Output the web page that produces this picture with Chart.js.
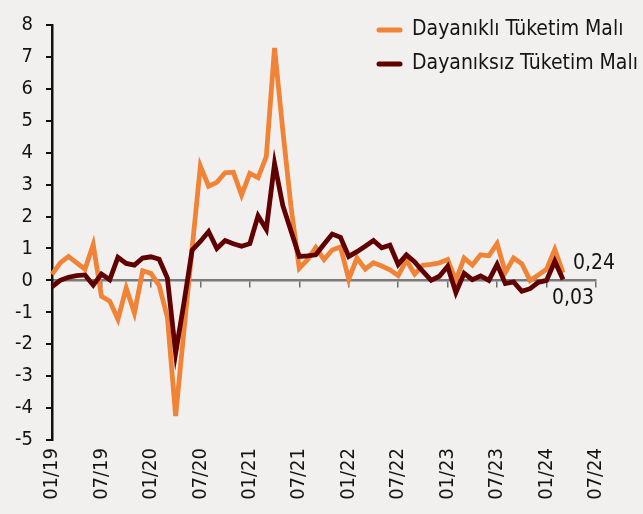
<!DOCTYPE html>
<html><head><meta charset="utf-8">
<script src="https://cdn.jsdelivr.net/npm/chart.js@4/dist/chart.umd.min.js"></script>
<style>
html,body{margin:0;padding:0;background:#F2F0EF;}
#wrap{width:643px;height:514px;position:relative;}
</style>
</head><body>
<div id="wrap"><canvas id="c" width="643" height="514"></canvas></div>
<script>
const categories = [
  "01/19","02/19","03/19","04/19","05/19","06/19","07/19","08/19","09/19","10/19","11/19","12/19",
  "01/20","02/20","03/20","04/20","05/20","06/20","07/20","08/20","09/20","10/20","11/20","12/20",
  "01/21","02/21","03/21","04/21","05/21","06/21","07/21","08/21","09/21","10/21","11/21","12/21",
  "01/22","02/22","03/22","04/22","05/22","06/22","07/22","08/22","09/22","10/22","11/22","12/22",
  "01/23","02/23","03/23","04/23","05/23","06/23","07/23","08/23","09/23","10/23","11/23","12/23",
  "01/24","02/24","03/24","04/24","05/24","06/24","07/24"
];
const durable = [
  0.19, 0.55, 0.75, 0.55, 0.35, 1.12, -0.50, -0.65, -1.22, -0.24, -1.02, 0.30,
  0.22, -0.16, -1.16, -4.25, -1.60, 1.00, 3.58, 2.95, 3.07, 3.37, 3.39, 2.67,
  3.35, 3.22, 3.88, 7.28, 4.70, 2.30, 0.38, 0.65, 1.03, 0.65, 0.95, 1.05,
  0.04, 0.70, 0.35, 0.55, 0.45, 0.33, 0.15, 0.63, 0.20, 0.47, 0.50, 0.55,
  0.65, 0.00, 0.70, 0.48, 0.80, 0.77, 1.15, 0.25, 0.70, 0.52, 0.00, 0.17,
  0.35, 0.97, 0.24
];
const nondurable = [
  -0.20, 0.00, 0.10, 0.15, 0.17, -0.15, 0.20, 0.02, 0.72, 0.53, 0.48, 0.70,
  0.74, 0.66, 0.07, -2.28, -0.72, 0.95, 1.22, 1.53, 1.00, 1.25, 1.15, 1.07,
  1.15, 2.02, 1.60, 3.66, 2.35, 1.55, 0.75, 0.77, 0.80, 1.13, 1.45, 1.35,
  0.75, 0.90, 1.07, 1.25, 1.02, 1.10, 0.50, 0.80, 0.58, 0.28, 0.00, 0.13,
  0.44, -0.38, 0.22, 0.02, 0.14, 0.00, 0.50, -0.10, -0.05, -0.34, -0.26, -0.06,
  0.00, 0.60, 0.03
];
const seriesNames = ["Dayanıklı Tüketim Malı", "Dayanıksız Tüketim Malı"];
const lastValueLabels = ["0,24", "0,03"];
const yMin = -5, yMax = 8, yStep = 1;

const FONT = "'DejaVu Sans Condensed', 'DejaVu Sans', sans-serif";
const ORANGE = "#F08336";
const BROWN = "#600000";
const TEXT = "#141414";

const legendPlugin = {
  id: 'customLegend',
  afterDraw(chart) {
    const ctx = chart.ctx;
    const items = [
      {label: chart.data.datasets[0].label, color: chart.data.datasets[0].borderColor},
      {label: chart.data.datasets[1].label, color: chart.data.datasets[1].borderColor}
    ];
    ctx.save();
    ctx.font = "21px " + FONT;
    ctx.textBaseline = 'middle';
    ctx.textAlign = 'left';
    items.forEach((it, k) => {
      const y = 30 + k * 34;
      ctx.strokeStyle = it.color;
      ctx.lineWidth = 5;
      ctx.lineCap = 'round';
      ctx.beginPath();
      ctx.moveTo(379, y);
      ctx.lineTo(400, y);
      ctx.stroke();
      ctx.fillStyle = TEXT;
      ctx.fillText(it.label, 412, y);
    });
    ctx.restore();
  }
};

const lastLabelPlugin = {
  id: 'lastLabels',
  afterDatasetsDraw(chart) {
    const ctx = chart.ctx;
    ctx.save();
    ctx.font = "21px " + FONT;
    ctx.fillStyle = TEXT;
    ctx.textBaseline = 'middle';
    ctx.textAlign = 'left';
    const m0 = chart.getDatasetMeta(0);
    const p0 = m0.data[m0.data.length - 1];
    ctx.fillText(lastValueLabels[0], p0.x + 10, p0.y - 9);
    const m1 = chart.getDatasetMeta(1);
    const p1 = m1.data[m1.data.length - 1];
    ctx.fillText(lastValueLabels[1], p1.x - 11, p1.y + 19);
    ctx.restore();
  }
};

new Chart(document.getElementById('c'), {
  type: 'line',
  data: {
    labels: categories,
    datasets: [
      {label: seriesNames[0], data: durable, borderColor: ORANGE, backgroundColor: ORANGE,
       borderWidth: 4.8, pointRadius: 0, tension: 0, order: 2, xAxisID: 'x', yAxisID: 'y'},
      {label: seriesNames[1], data: nondurable, borderColor: BROWN, backgroundColor: BROWN,
       borderWidth: 4.8, pointRadius: 0, tension: 0, order: 1, xAxisID: 'x', yAxisID: 'y'}
    ]
  },
  options: {
    responsive: false,
    animation: false,
    devicePixelRatio: 1,
    layout: {padding: {top: 10, right: 47, left: 0, bottom: 0}},
    plugins: {legend: {display: false}, tooltip: {enabled: false}},
    scales: {
      x: {
        type: 'category',
        position: 'bottom',
        offset: false,
        grid: {display: false, drawTicks: false},
        border: {display: false},
        ticks: {
          autoSkip: false, maxRotation: 90, minRotation: 90, padding: 8,
          font: {size: 20, family: FONT}, color: TEXT,
          callback: (v, i) => (i % 6 === 0 ? categories[i] : null)
        },
        afterFit: s => { s.height = 74; }
      },
      x2: {
        type: 'category',
        position: {y: 0},
        offset: false,
        grid: {
          drawOnChartArea: false, drawTicks: true, tickLength: 6, lineWidth: 1.5,
          color: c => (c.index % 6 === 0 ? '#6e6e6e' : 'rgba(0,0,0,0)')
        },
        border: {display: true, color: '#7a7a7a', width: 2.5},
        ticks: {display: false, autoSkip: false}
      },
      y: {
        min: yMin, max: yMax,
        grid: {drawOnChartArea: false, drawTicks: true, tickLength: 6, color: '#111', lineWidth: 2},
        border: {display: true, color: '#111', width: 2.5},
        ticks: {stepSize: yStep, padding: 13, font: {size: 20, family: FONT}, color: TEXT,
                callback: v => String(v)},
        afterFit: s => { s.width = 52; }
      }
    }
  },
  plugins: [legendPlugin, lastLabelPlugin]
});
</script>
</body></html>
